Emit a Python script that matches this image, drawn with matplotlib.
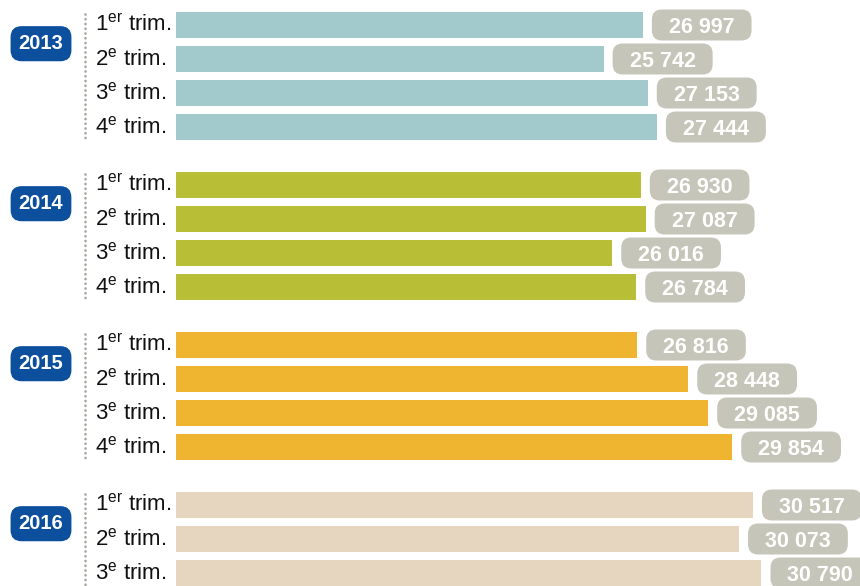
import matplotlib
matplotlib.use('Agg')
import matplotlib.pyplot as plt
from matplotlib.patches import FancyBboxPatch
from matplotlib.transforms import blended_transform_factory, IdentityTransform

# data
years = ['2013', '2014', '2015', '2016']
quarters = [r'1$^{\mathrm{er}}$ trim.', r'2$^{\mathrm{e}}$ trim.',
            r'3$^{\mathrm{e}}$ trim.', r'4$^{\mathrm{e}}$ trim.']
values_2013 = [26997, 25742, 27153, 27444]
values_2014 = [26930, 27087, 26016, 26784]
values_2015 = [26816, 28448, 29085, 29854]
values_2016 = [30517, 30073, 30790]
year_colors = ['#a2c9cb', '#b8bf36', '#efb530', '#e6d6c0']

series = [values_2013, values_2014, values_2015, values_2016]

plt.rcParams['mathtext.fontset'] = 'custom'
plt.rcParams['mathtext.rm'] = 'Liberation Sans'

W, H = 860, 586
fig = plt.figure(figsize=(W / 100, H / 100), dpi=100)
ax = fig.add_axes([176 / W, 0, 1 - 176 / W, 1])
ax.set_xlim(12066, 33940)
ax.set_ylim(H, 0)
ax.axis('off')

trans = blended_transform_factory(fig.transFigure, ax.transData)

step = 34        # row spacing
group_gap = 160  # group spacing
top = 25

gap_px = 9       # bar end -> pill
margin_px = 17   # pill side margin
pill_h = 31
val_size = 15.5

value_texts = []
for g, vals in enumerate(series):
    ys = [top + g * group_gap + q * step for q in range(len(vals))]
    ax.barh(ys, vals, height=26, color=year_colors[g], left=0)

    for q, (v, y) in enumerate(zip(vals, ys)):
        fig.text(95 / W, y, quarters[q], transform=trans, ha='left', va='center',
                 fontsize=16, family='Liberation Sans', color='#111111')
        lab = f'{v:,}'.replace(',', ' ')
        t = ax.annotate(lab, xy=(v, y), xytext=((gap_px + margin_px) * 0.72, -1.6),
                        textcoords='offset points', ha='left', va='center',
                        fontsize=val_size, family='Liberation Sans',
                        fontweight='bold', color='white', zorder=4,
                        annotation_clip=False)
        value_texts.append((t, y))

    # dotted guide
    y0 = ys[0] - 11
    y1 = min(ys[-1] + 12, H + 5)
    ax.plot([85 / W, 85 / W], [y0, y1], transform=trans, color='#a9a99f',
            lw=2, linestyle=(0, (0.01, 1.7)), dash_capstyle='round',
            clip_on=False)

    # year badge
    fig.text(41 / W, ys[0] + 0.55 * step, years[g], transform=trans,
             ha='center', va='center', fontsize=14.5, fontweight='bold',
             family='Liberation Sans', color='white',
             bbox=dict(boxstyle='round,pad=0.4,rounding_size=0.55',
                       fc='#0b4f9d', ec='none'))

# grey pills behind the value labels
fig.canvas.draw()
renderer = fig.canvas.get_renderer()
for t, y in value_texts:
    bb = t.get_window_extent(renderer)
    yc = ax.transData.transform((0, y))[1]
    pill = FancyBboxPatch((bb.x0 - margin_px, yc - pill_h / 2),
                          bb.width + 2 * margin_px, pill_h,
                          boxstyle='round,pad=0,rounding_size=10',
                          transform=IdentityTransform(), fc='#c6c5b9',
                          ec='none', zorder=3, clip_on=False)
    ax.add_artist(pill)

fig.savefig('out.png', dpi=100)
